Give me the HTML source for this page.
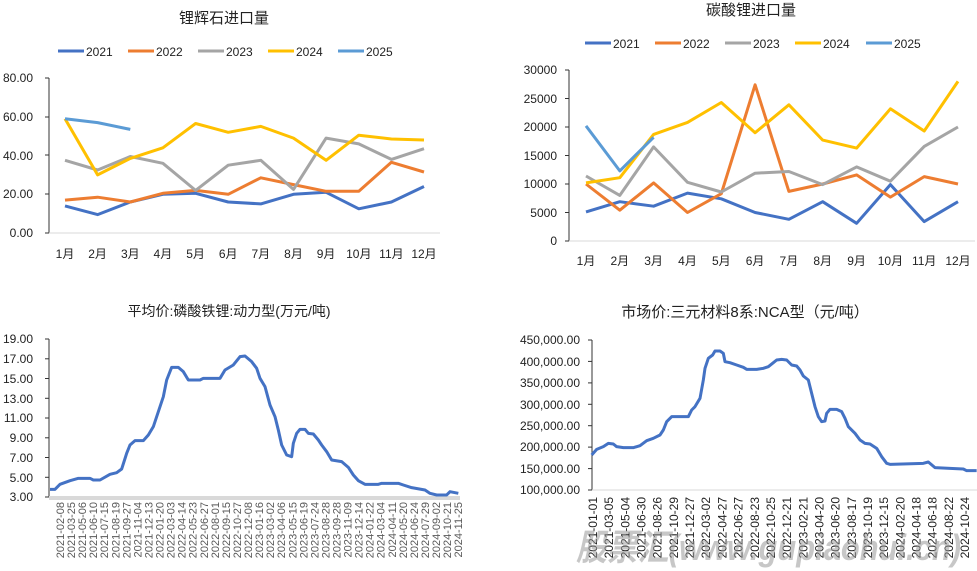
<!DOCTYPE html>
<html><head><meta charset="utf-8"><style>
html,body{margin:0;padding:0;background:#fff;}
svg{display:block;font-family:"Liberation Sans","Noto Sans CJK SC",sans-serif;}
</style></head><body>
<svg width="977" height="571" viewBox="0 0 977 571" xmlns="http://www.w3.org/2000/svg">
<!-- Chart 1 -->
<text x="224" y="23" font-size="15" text-anchor="middle" fill="#222">锂辉石进口量</text>
<g font-size="12" fill="#222">
<line x1="58" y1="51" x2="84" y2="51" stroke="#4472C4" stroke-width="3"/><text x="86" y="56">2021</text>
<line x1="128" y1="51" x2="154" y2="51" stroke="#ED7D31" stroke-width="3"/><text x="156" y="56">2022</text>
<line x1="198" y1="51" x2="224" y2="51" stroke="#A5A5A5" stroke-width="3"/><text x="226" y="56">2023</text>
<line x1="268" y1="51" x2="294" y2="51" stroke="#FFC000" stroke-width="3"/><text x="296" y="56">2024</text>
<line x1="338" y1="51" x2="364" y2="51" stroke="#5B9BD5" stroke-width="3"/><text x="366" y="56">2025</text>
</g>
<g font-size="12" fill="#222" text-anchor="end">
<text x="33" y="82">80.00</text><text x="33" y="121">60.00</text><text x="33" y="160">40.00</text><text x="33" y="198">20.00</text><text x="33" y="237">0.00</text>
</g>
<line x1="49" y1="78" x2="49" y2="233" stroke="#333" stroke-width="1"/>
<g stroke="#333"><line x1="45" y1="78" x2="49" y2="78"/><line x1="45" y1="117" x2="49" y2="117"/><line x1="45" y1="155" x2="49" y2="155"/><line x1="45" y1="194" x2="49" y2="194"/><line x1="45" y1="233" x2="49" y2="233"/></g>
<line x1="49" y1="233" x2="440" y2="233" stroke="#d9d9d9"/>
<g font-size="12" fill="#222" text-anchor="middle">
<text x="65" y="258">1月</text><text x="97.6" y="258">2月</text><text x="130.3" y="258">3月</text><text x="162.9" y="258">4月</text><text x="195.6" y="258">5月</text><text x="228.2" y="258">6月</text><text x="260.8" y="258">7月</text><text x="293.5" y="258">8月</text><text x="326.1" y="258">9月</text><text x="358.8" y="258">10月</text><text x="391.4" y="258">11月</text><text x="424" y="258">12月</text>
</g>
<g fill="none" stroke-width="3" stroke-linejoin="round">
<polyline stroke="#4472C4" points="65,205.9 97.6,214.6 130.3,202 162.9,194.3 195.6,193.3 228.2,202 260.8,203.9 293.5,194.3 326.1,192.3 358.8,208.8 391.4,202 424,186.5"/>
<polyline stroke="#ED7D31" points="65,200.1 97.6,197.2 130.3,202 162.9,193.3 195.6,190.4 228.2,194.3 260.8,177.8 293.5,184.6 326.1,191.3 358.8,191.3 391.4,162.3 424,172"/>
<polyline stroke="#A5A5A5" points="65,160.3 97.6,170 130.3,156.5 162.9,163.3 195.6,190.4 228.2,165.2 260.8,160.3 293.5,189.4 326.1,138.1 358.8,143.9 391.4,159.4 424,148.7"/>
<polyline stroke="#FFC000" points="65,118.7 97.6,174.9 130.3,158.4 162.9,147.8 195.6,123.5 228.2,132.3 260.8,126.4 293.5,138.1 326.1,160.3 358.8,135.2 391.4,139 424,140"/>
<polyline stroke="#5B9BD5" points="65,118.7 97.6,122.6 130.3,129.4"/>
</g>

<!-- Chart 2 -->
<text x="751" y="15" font-size="15" text-anchor="middle" fill="#222">碳酸锂进口量</text>
<g font-size="12" fill="#222">
<line x1="585" y1="43" x2="611" y2="43" stroke="#4472C4" stroke-width="3"/><text x="613" y="48">2021</text>
<line x1="655" y1="43" x2="681" y2="43" stroke="#ED7D31" stroke-width="3"/><text x="683" y="48">2022</text>
<line x1="725" y1="43" x2="751" y2="43" stroke="#A5A5A5" stroke-width="3"/><text x="753" y="48">2023</text>
<line x1="795" y1="43" x2="821" y2="43" stroke="#FFC000" stroke-width="3"/><text x="823" y="48">2024</text>
<line x1="866" y1="43" x2="892" y2="43" stroke="#5B9BD5" stroke-width="3"/><text x="894" y="48">2025</text>
</g>
<g font-size="12" fill="#222" text-anchor="end">
<text x="557" y="74">30000</text><text x="557" y="103">25000</text><text x="557" y="131">20000</text><text x="557" y="160">15000</text><text x="557" y="188">10000</text><text x="557" y="217">5000</text><text x="557" y="245">0</text>
</g>
<line x1="569" y1="70" x2="569" y2="241" stroke="#333"/>
<g stroke="#333"><line x1="565" y1="70" x2="569" y2="70"/><line x1="565" y1="98.5" x2="569" y2="98.5"/><line x1="565" y1="127" x2="569" y2="127"/><line x1="565" y1="155.5" x2="569" y2="155.5"/><line x1="565" y1="184" x2="569" y2="184"/><line x1="565" y1="212.5" x2="569" y2="212.5"/><line x1="565" y1="241" x2="569" y2="241"/></g>
<line x1="569" y1="241" x2="975" y2="241" stroke="#d9d9d9"/>
<g font-size="12" fill="#222" text-anchor="middle">
<text x="586" y="265">1月</text><text x="619.8" y="265">2月</text><text x="653.6" y="265">3月</text><text x="687.5" y="265">4月</text><text x="721.3" y="265">5月</text><text x="755.1" y="265">6月</text><text x="788.9" y="265">7月</text><text x="822.7" y="265">8月</text><text x="856.6" y="265">9月</text><text x="890.4" y="265">10月</text><text x="924.2" y="265">11月</text><text x="958" y="265">12月</text>
</g>
<g fill="none" stroke-width="3" stroke-linejoin="round">
<polyline stroke="#4472C4" points="586,211.9 619.8,201.7 653.6,206.2 687.5,193.1 721.3,198.8 755.1,212.5 788.9,219.3 822.7,201.7 856.6,223.3 890.4,184.6 924.2,221.6 958,201.7"/>
<polyline stroke="#ED7D31" points="586,184 619.8,210.2 653.6,182.9 687.5,212.5 721.3,193.7 755.1,84.8 788.9,191.4 822.7,184 856.6,174.9 890.4,197.1 924.2,176.6 958,184"/>
<polyline stroke="#A5A5A5" points="586,176 619.8,195.4 653.6,146.9 687.5,182.3 721.3,192 755.1,173.2 788.9,171.5 822.7,184.6 856.6,166.9 890.4,181.2 924.2,146.4 958,127"/>
<polyline stroke="#FFC000" points="586,182.9 619.8,177.7 653.6,134.4 687.5,122.4 721.3,102.5 755.1,132.7 788.9,104.8 822.7,140.1 856.6,148.1 890.4,108.8 924.2,131 958,81.4"/>
<polyline stroke="#5B9BD5" points="586,125.9 619.8,170.9 653.6,137.3"/>
</g>

<!-- Chart 3 -->
<text x="229" y="316" font-size="14" text-anchor="middle" fill="#222">平均价:磷酸铁锂:动力型(万元/吨)</text>
<g font-size="12" fill="#222" text-anchor="end">
<text x="33" y="343">19.00</text><text x="33" y="363">17.00</text><text x="33" y="383">15.00</text><text x="33" y="403">13.00</text><text x="33" y="422">11.00</text><text x="33" y="442">9.00</text><text x="33" y="462">7.00</text><text x="33" y="482">5.00</text><text x="33" y="501">3.00</text>
</g>
<line x1="49" y1="339" x2="49" y2="497" stroke="#333"/>
<g stroke="#333"><line x1="45" y1="339" x2="49" y2="339"/><line x1="45" y1="358.8" x2="49" y2="358.8"/><line x1="45" y1="378.5" x2="49" y2="378.5"/><line x1="45" y1="398.3" x2="49" y2="398.3"/><line x1="45" y1="418" x2="49" y2="418"/><line x1="45" y1="437.8" x2="49" y2="437.8"/><line x1="45" y1="457.5" x2="49" y2="457.5"/><line x1="45" y1="477.3" x2="49" y2="477.3"/><line x1="45" y1="497" x2="49" y2="497"/></g>
<rect x="49" y="496" width="411" height="4" fill="#d9d9d9"/>
<g transform="translate(0,290) scale(0.33333)">
<polyline fill="none" stroke="#4472C4" stroke-width="9" stroke-linejoin="round" points="150,598 165,598 180,583 210,572 235,565 270,565 280,570 300,570 330,553 350,548 365,537 380,490 390,465 405,452 430,452 445,435 460,410 475,365 490,320 500,270 515,232 535,232 550,245 565,270 600,270 610,265 660,265 675,240 700,225 720,200 735,198 755,215 770,235 780,265 795,290 810,345 825,380 835,420 845,465 860,495 875,500 880,460 890,430 900,418 915,418 925,430 940,432 955,450 965,465 980,485 995,510 1025,515 1045,532 1060,555 1075,572 1095,583 1135,583 1145,580 1195,580 1210,585 1235,593 1275,600 1290,610 1310,615 1340,615 1350,605 1375,610"/>
</g>
<g font-size="11" fill="#595959" text-anchor="end">
<text transform="translate(64,502) rotate(-90)">2021-02-08</text>
<text transform="translate(75.1,502) rotate(-90)">2021-03-25</text>
<text transform="translate(86.1,502) rotate(-90)">2021-05-06</text>
<text transform="translate(97.2,502) rotate(-90)">2021-06-10</text>
<text transform="translate(108.2,502) rotate(-90)">2021-07-15</text>
<text transform="translate(119.3,502) rotate(-90)">2021-08-19</text>
<text transform="translate(130.4,502) rotate(-90)">2021-09-27</text>
<text transform="translate(141.4,502) rotate(-90)">2021-11-04</text>
<text transform="translate(152.5,502) rotate(-90)">2021-12-13</text>
<text transform="translate(163.5,502) rotate(-90)">2022-01-20</text>
<text transform="translate(174.6,502) rotate(-90)">2022-03-03</text>
<text transform="translate(185.7,502) rotate(-90)">2022-04-14</text>
<text transform="translate(196.7,502) rotate(-90)">2022-05-23</text>
<text transform="translate(207.8,502) rotate(-90)">2022-06-27</text>
<text transform="translate(218.8,502) rotate(-90)">2022-08-01</text>
<text transform="translate(229.9,502) rotate(-90)">2022-09-15</text>
<text transform="translate(241,502) rotate(-90)">2022-10-27</text>
<text transform="translate(252,502) rotate(-90)">2022-12-08</text>
<text transform="translate(263.1,502) rotate(-90)">2023-01-16</text>
<text transform="translate(274.1,502) rotate(-90)">2023-03-02</text>
<text transform="translate(285.2,502) rotate(-90)">2023-04-06</text>
<text transform="translate(296.3,502) rotate(-90)">2023-05-15</text>
<text transform="translate(307.3,502) rotate(-90)">2023-06-19</text>
<text transform="translate(318.4,502) rotate(-90)">2023-07-24</text>
<text transform="translate(329.4,502) rotate(-90)">2023-08-28</text>
<text transform="translate(340.5,502) rotate(-90)">2023-09-28</text>
<text transform="translate(351.6,502) rotate(-90)">2023-11-09</text>
<text transform="translate(362.6,502) rotate(-90)">2023-12-14</text>
<text transform="translate(373.7,502) rotate(-90)">2024-01-22</text>
<text transform="translate(384.7,502) rotate(-90)">2024-03-04</text>
<text transform="translate(395.8,502) rotate(-90)">2024-04-11</text>
<text transform="translate(406.9,502) rotate(-90)">2024-05-20</text>
<text transform="translate(417.9,502) rotate(-90)">2024-06-24</text>
<text transform="translate(429,502) rotate(-90)">2024-07-29</text>
<text transform="translate(440,502) rotate(-90)">2024-09-02</text>
<text transform="translate(451.1,502) rotate(-90)">2024-10-21</text>
<text transform="translate(462.1,502) rotate(-90)">2024-11-25</text>
</g>

<!-- Chart 4 -->
<text x="745" y="317" font-size="15" text-anchor="middle" fill="#222">市场价:三元材料8系:NCA型（元/吨）</text>
<g font-size="12" fill="#222" text-anchor="end">
<text x="580" y="344">450,000.00</text><text x="580" y="366">400,000.00</text><text x="580" y="387">350,000.00</text><text x="580" y="409">300,000.00</text><text x="580" y="430">250,000.00</text><text x="580" y="451">200,000.00</text><text x="580" y="473">150,000.00</text><text x="580" y="494">100,000.00</text>
</g>
<line x1="592" y1="340" x2="592" y2="490" stroke="#333"/>
<g stroke="#333"><line x1="588" y1="340" x2="592" y2="340"/><line x1="588" y1="361.4" x2="592" y2="361.4"/><line x1="588" y1="382.9" x2="592" y2="382.9"/><line x1="588" y1="404.3" x2="592" y2="404.3"/><line x1="588" y1="425.7" x2="592" y2="425.7"/><line x1="588" y1="447.1" x2="592" y2="447.1"/><line x1="588" y1="468.6" x2="592" y2="468.6"/><line x1="588" y1="490" x2="592" y2="490"/></g>
<line x1="592" y1="490" x2="977" y2="490" stroke="#d9d9d9"/>
<g transform="translate(490,290) scale(0.33333)">
<polyline fill="none" stroke="#4472C4" stroke-width="9" stroke-linejoin="round" points="305,495 320,478 340,470 355,460 370,462 380,470 400,473 430,473 450,467 470,452 490,445 510,435 520,420 530,395 545,380 595,380 605,360 615,350 630,325 640,270 645,235 655,205 668,195 675,183 690,183 700,190 705,215 720,218 740,225 760,232 770,238 800,238 820,235 835,230 850,218 860,210 875,208 890,210 905,225 920,228 930,240 940,258 955,270 965,310 975,350 985,380 995,395 1005,393 1010,370 1020,358 1040,358 1055,365 1065,385 1075,410 1095,430 1110,450 1125,460 1140,462 1160,475 1175,500 1190,520 1200,523 1300,520 1315,516 1335,533 1380,535 1420,537 1430,542 1460,542"/>
</g>
<g font-size="12" fill="#222" text-anchor="end">
<text transform="translate(597,497) rotate(-90)">2021-01-01</text>
<text transform="translate(613.2,497) rotate(-90)">2021-03-05</text>
<text transform="translate(629.4,497) rotate(-90)">2021-05-04</text>
<text transform="translate(645.5,497) rotate(-90)">2021-06-30</text>
<text transform="translate(661.7,497) rotate(-90)">2021-08-26</text>
<text transform="translate(677.9,497) rotate(-90)">2021-10-29</text>
<text transform="translate(694.1,497) rotate(-90)">2021-12-27</text>
<text transform="translate(710.2,497) rotate(-90)">2022-03-02</text>
<text transform="translate(726.4,497) rotate(-90)">2022-04-27</text>
<text transform="translate(742.6,497) rotate(-90)">2022-06-27</text>
<text transform="translate(758.8,497) rotate(-90)">2022-08-23</text>
<text transform="translate(774.9,497) rotate(-90)">2022-10-25</text>
<text transform="translate(791.1,497) rotate(-90)">2022-12-21</text>
<text transform="translate(807.3,497) rotate(-90)">2023-02-21</text>
<text transform="translate(823.5,497) rotate(-90)">2023-04-20</text>
<text transform="translate(839.6,497) rotate(-90)">2023-06-20</text>
<text transform="translate(855.8,497) rotate(-90)">2023-08-17</text>
<text transform="translate(872,497) rotate(-90)">2023-10-19</text>
<text transform="translate(888.2,497) rotate(-90)">2023-12-15</text>
<text transform="translate(904.3,497) rotate(-90)">2024-02-20</text>
<text transform="translate(920.5,497) rotate(-90)">2024-04-18</text>
<text transform="translate(936.7,497) rotate(-90)">2024-06-18</text>
<text transform="translate(952.9,497) rotate(-90)">2024-08-22</text>
<text transform="translate(969,497) rotate(-90)">2024-10-24</text>
</g>
<text x="576" y="560" font-size="36" font-weight="bold" font-style="italic" fill="#999" fill-opacity="0.55" textLength="385" lengthAdjust="spacingAndGlyphs">股票汇(www.gupiaohui.cn)</text>
</svg>
</body></html>
